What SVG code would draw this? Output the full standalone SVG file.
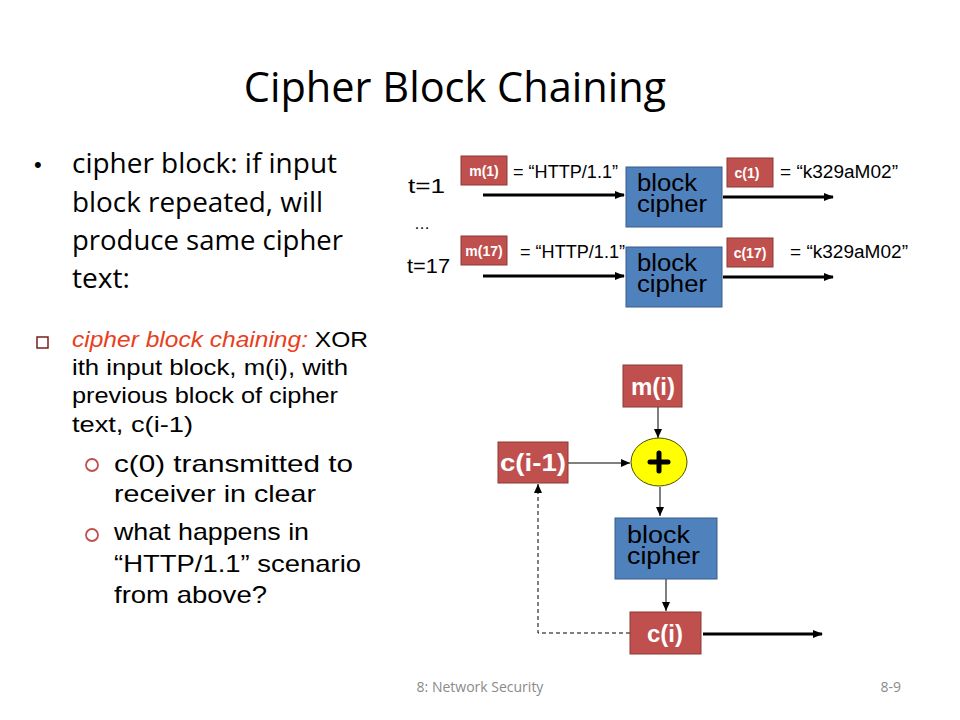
<svg xmlns="http://www.w3.org/2000/svg" width="960" height="720" viewBox="0 0 960 720">
<style>
.red{fill:#C0504D;stroke:#8C3836;stroke-width:1}
.blue{fill:#4F81BD;stroke:#385D8A;stroke-width:1}
.wl{fill:#fff;font-family:"Liberation Sans",Arial,sans-serif;font-weight:bold}
.bc{fill:#000;font-family:"Liberation Sans",Arial,sans-serif;font-size:23px}
.lbl{fill:#000;font-family:"Liberation Sans",Arial,sans-serif;font-size:18px}
.body{fill:#000;font-family:"Open Sans","Liberation Sans",sans-serif;font-size:27px}
.sub{fill:#000;font-family:"Liberation Sans",Arial,sans-serif;font-size:22px}
.sub2{fill:#000;font-family:"Liberation Sans",Arial,sans-serif;font-size:24px}
.thick{stroke:#000;stroke-width:3;fill:none}
.thin{stroke:#000;stroke-width:1;fill:none}
</style>
<defs>
<marker id="ah" markerWidth="10" markerHeight="8" refX="9" refY="4" orient="auto" markerUnits="userSpaceOnUse"><path d="M0,0 L10,4 L0,8 Z" fill="#000"/></marker>
<marker id="ahs" markerWidth="9" markerHeight="8" refX="9" refY="4" orient="auto" markerUnits="userSpaceOnUse"><path d="M0,0 L9,4 L0,8 Z" fill="#000"/></marker>
</defs>
<text x="455" y="102" text-anchor="middle" font-family="Open Sans, Liberation Sans, sans-serif" font-size="41.5" fill="#000">Cipher Block Chaining</text>
<g id="text-left">
<text x="34" y="172" font-family="Liberation Sans, sans-serif" font-size="22" fill="#000">•</text>
<text class="body" x="72" y="173" textLength="265" lengthAdjust="spacingAndGlyphs">cipher block: if input</text>
<text class="body" x="72" y="212" textLength="251" lengthAdjust="spacingAndGlyphs">block repeated, will</text>
<text class="body" x="72" y="250" textLength="271" lengthAdjust="spacingAndGlyphs">produce same cipher</text>
<text class="body" x="72" y="288" textLength="58" lengthAdjust="spacingAndGlyphs">text:</text>
<rect x="37" y="337" width="11" height="11" fill="none" stroke="#7A1F1F" stroke-width="1.5"/>
<text class="sub" x="72" y="347" textLength="296" lengthAdjust="spacingAndGlyphs"><tspan fill="#E8401C" font-style="italic">cipher block chaining:</tspan> XOR</text>
<text class="sub" x="72" y="375" textLength="276" lengthAdjust="spacingAndGlyphs">ith input block, m(i), with</text>
<text class="sub" x="72" y="403" textLength="266" lengthAdjust="spacingAndGlyphs">previous block of cipher</text>
<text class="sub" x="72" y="432" textLength="121" lengthAdjust="spacingAndGlyphs">text, c(i-1)</text>
<circle cx="92" cy="465" r="6" fill="none" stroke="#C0504D" stroke-width="1.8"/>
<text class="sub2" x="114" y="472" textLength="239" lengthAdjust="spacingAndGlyphs">c(0) transmitted to</text>
<text class="sub2" x="114" y="502" textLength="202" lengthAdjust="spacingAndGlyphs">receiver in clear</text>
<circle cx="92" cy="535" r="6" fill="none" stroke="#C0504D" stroke-width="1.8"/>
<text class="sub2" x="114" y="540" textLength="195" lengthAdjust="spacingAndGlyphs">what happens in</text>
<text class="sub2" x="114" y="572" textLength="247" lengthAdjust="spacingAndGlyphs">“HTTP/1.1” scenario</text>
<text class="sub2" x="114" y="603" textLength="153" lengthAdjust="spacingAndGlyphs">from above?</text>
</g>
<g id="connectors">
<line class="thick" x1="483" y1="195" x2="624" y2="195" marker-end="url(#ah)"/>
<line class="thick" x1="723" y1="197" x2="833" y2="197" marker-end="url(#ah)"/>
<line class="thick" x1="483" y1="276" x2="624" y2="276" marker-end="url(#ah)"/>
<line class="thick" x1="723" y1="277" x2="833" y2="277" marker-end="url(#ah)"/>
<line class="thin" x1="658" y1="407" x2="658" y2="438" marker-end="url(#ahs)"/>
<line class="thin" x1="568" y1="463" x2="630" y2="463" marker-end="url(#ahs)"/>
<line class="thin" x1="660" y1="487" x2="660" y2="516" marker-end="url(#ahs)"/>
<line class="thin" x1="666" y1="579" x2="666" y2="611" marker-end="url(#ahs)"/>
<line class="thick" x1="703" y1="634" x2="822" y2="634" marker-end="url(#ah)"/>
<polyline class="thin" points="630,633 538,633 538,484" stroke-dasharray="4,3" marker-end="url(#ahs)"/>
</g>
<g id="t1">
<text x="408" y="193" font-family="Liberation Sans, sans-serif" font-size="20" fill="#000" textLength="37" lengthAdjust="spacingAndGlyphs">t=1</text>
<text x="414" y="229" font-family="Liberation Sans, sans-serif" font-size="16" fill="#000">…</text>
<text x="407" y="273" font-family="Liberation Sans, sans-serif" font-size="20" fill="#000" textLength="43" lengthAdjust="spacingAndGlyphs">t=17</text>
</g>
<g id="m1">
<rect class="red" x="461" y="156" width="46" height="29"/>
<text class="wl" x="484" y="176" text-anchor="middle" font-size="14">m(1)</text>
<text class="lbl" x="513" y="178" textLength="105" lengthAdjust="spacingAndGlyphs">= “HTTP/1.1”</text>
</g>
<g id="bc1">
<rect class="blue" x="626" y="167" width="96" height="60"/>
<text class="bc" x="637" y="191" textLength="60" lengthAdjust="spacingAndGlyphs">block</text>
<text class="bc" x="637" y="212" textLength="70" lengthAdjust="spacingAndGlyphs">cipher</text>
</g>
<g id="c1">
<rect class="red" x="727" y="158" width="46" height="29"/>
<text class="wl" x="747" y="178" text-anchor="middle" font-size="14">c(1)</text>
<text class="lbl" x="780" y="178" textLength="118" lengthAdjust="spacingAndGlyphs">= “k329aM02”</text>
</g>
<g id="m17">
<rect class="red" x="461" y="236" width="46" height="29"/>
<text class="wl" x="484" y="256" text-anchor="middle" font-size="14">m(17)</text>
<text class="lbl" x="520" y="258" textLength="105" lengthAdjust="spacingAndGlyphs">= “HTTP/1.1”</text>
</g>
<g id="bc17">
<rect class="blue" x="626" y="247" width="96" height="60"/>
<text class="bc" x="637" y="271" textLength="60" lengthAdjust="spacingAndGlyphs">block</text>
<text class="bc" x="637" y="292" textLength="70" lengthAdjust="spacingAndGlyphs">cipher</text>
</g>
<g id="c17">
<rect class="red" x="727" y="238" width="46" height="29"/>
<text class="wl" x="750" y="258" text-anchor="middle" font-size="14">c(17)</text>
<text class="lbl" x="790" y="258" textLength="118" lengthAdjust="spacingAndGlyphs">= “k329aM02”</text>
</g>
<g id="mi">
<rect class="red" x="623" y="365" width="59" height="42"/>
<text class="wl" x="653" y="395" text-anchor="middle" font-size="24">m(i)</text>
</g>
<g id="xor">
<ellipse cx="659" cy="462" rx="28" ry="24" fill="#FFFF00" stroke="#4D4D00" stroke-width="1"/>
<path d="M659,453 V471 M650,462 H668" stroke="#000" stroke-width="5" stroke-linecap="round"/>
</g>
<g id="cim1">
<rect class="red" x="498" y="442" width="70" height="41"/>
<text class="wl" x="533" y="471" text-anchor="middle" font-size="24" textLength="66" lengthAdjust="spacingAndGlyphs">c(i-1)</text>
</g>
<g id="bci">
<rect class="blue" x="615" y="518" width="102" height="61"/>
<text class="bc" x="627" y="543" textLength="63" lengthAdjust="spacingAndGlyphs">block</text>
<text class="bc" x="627" y="564" textLength="73" lengthAdjust="spacingAndGlyphs">cipher</text>
</g>
<g id="ci">
<rect class="red" x="630" y="612" width="71" height="42"/>
<text class="wl" x="665" y="642" text-anchor="middle" font-size="24">c(i)</text>
</g>
<g id="footer">
<text x="480" y="692" text-anchor="middle" font-family="Open Sans, Liberation Sans, sans-serif" font-size="14" fill="#8A8A8A">8: Network Security</text>
<text x="901" y="692" text-anchor="end" font-family="Open Sans, Liberation Sans, sans-serif" font-size="14" fill="#8A8A8A">8-9</text>
</g>
</svg>
